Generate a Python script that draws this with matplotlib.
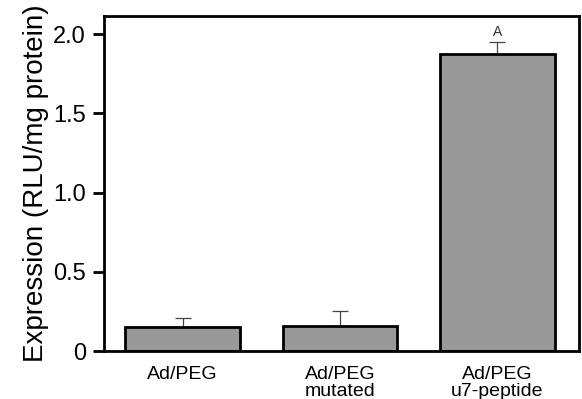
import numpy as np
import matplotlib.pyplot as plt

plt.rcParams['font.family'] = ['Liberation Sans', 'DejaVu Sans']

# Data
groups = ["Ad/PEG", "Ad/PEG\nmutated", "Ad/PEG\nu7-peptide"]
expression = [0.152, 0.158, 1.873]
err_upper = [0.058, 0.092, 0.077]
marks = ["", "", "A"]

fig = plt.figure(figsize=(5.82, 3.99), dpi=100)
ax = fig.add_axes([104/582, 1 - 351/399, 475/582, 335/399])

x = np.arange(len(groups))
ax.bar(x, expression, width=0.73, color='#999999', edgecolor='black', linewidth=2, zorder=2)
ax.errorbar(x, expression, yerr=[np.zeros(len(x)), err_upper], fmt='none',
            ecolor='#444444', elinewidth=0.9, capsize=6, capthick=0.9, zorder=1)
for xi, yi, ei, m in zip(x, expression, err_upper, marks):
    if m:
        ax.text(xi, yi + ei + 0.02, m, ha='center', va='bottom', fontsize=10, color='#333333')

ax.set_xlim(-0.5, 2.52)
ax.set_ylim(0, 2.115)
ax.set_yticks([0, 0.5, 1.0, 1.5, 2.0])
ax.set_yticklabels(["0", "0.5", "1.0", "1.5", "2.0"], fontsize=17)
ax.set_xticks(x)
ax.set_xticklabels(groups, fontsize=14, linespacing=0.95)
ax.tick_params(axis='x', length=0, pad=11)
ax.tick_params(axis='y', length=8, width=2, pad=5)
ax.set_ylabel("Expression (RLU/mg protein)", fontsize=20, labelpad=3)
for s in ax.spines.values():
    s.set_linewidth(2)

fig.savefig("out.png", dpi=100)
